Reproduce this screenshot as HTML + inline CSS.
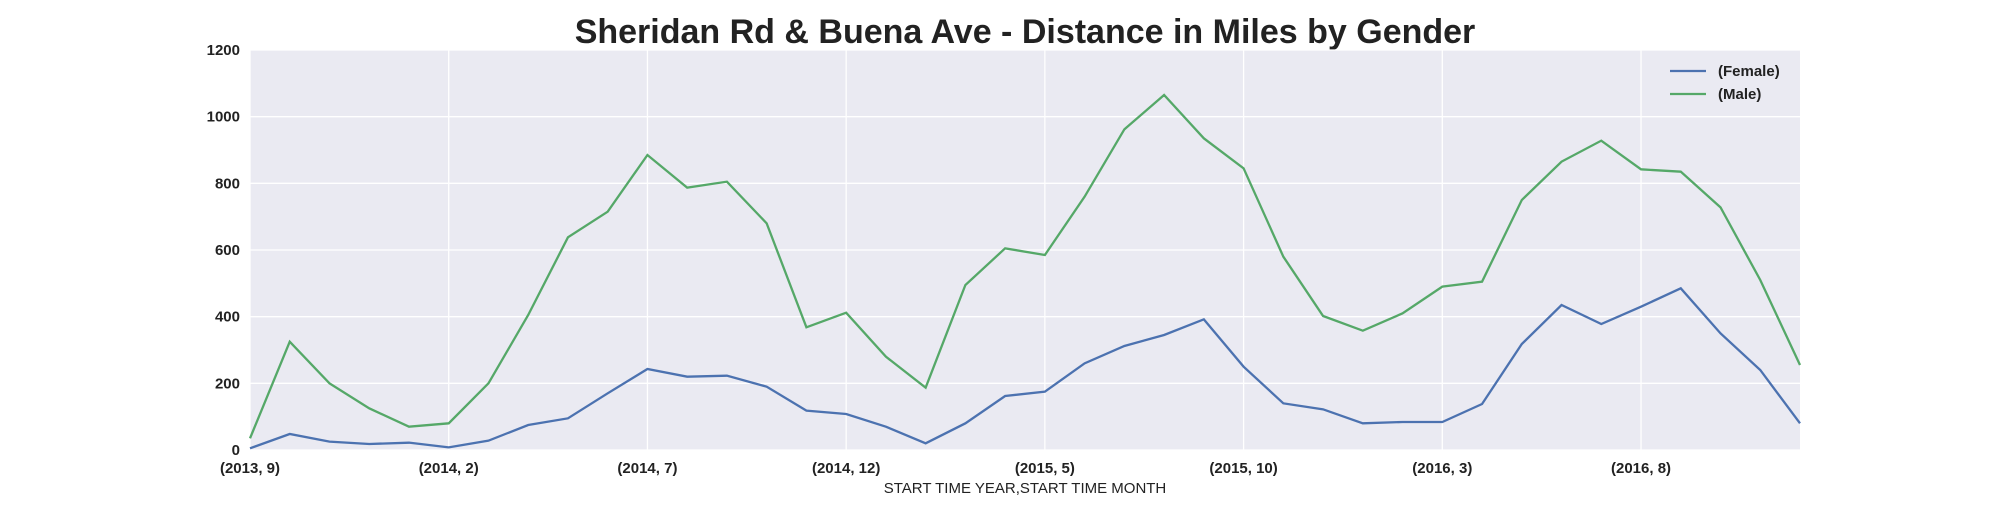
<!DOCTYPE html>
<html><head><meta charset="utf-8"><style>
body{margin:0;background:#fff;font-family:"Liberation Sans",Arial,sans-serif}
</style></head><body>
<svg width="2000" height="500" xmlns="http://www.w3.org/2000/svg">
<text x="1025" y="43" text-anchor="middle" font-size="34" font-weight="bold" fill="#222">Sheridan Rd &amp; Buena Ave - Distance in Miles by Gender</text>
<rect x="250" y="50" width="1550" height="400" fill="#eaeaf2"/>
<g id="grid"></g><g id="series"></g><g id="ticks"></g>
<text x="1025" y="493" text-anchor="middle" font-size="15" fill="#222">START TIME YEAR,START TIME MONTH</text>
<g>
<line x1="1670" y1="71" x2="1706" y2="71" stroke="#4c72b0" stroke-width="2.3"/>
<text x="1718" y="76" font-size="15" font-weight="bold" fill="#222">(Female)</text>
<line x1="1670" y1="94" x2="1706" y2="94" stroke="#55a868" stroke-width="2.3"/>
<text x="1718" y="99" font-size="15" font-weight="bold" fill="#222">(Male)</text>
</g>
</svg>
<script>
const female=[5,48,25,18,22,8,28,75,95,170,243,220,223,190,118,108,70,20,80,162,175,260,312,345,392,250,140,122,80,84,84,138,318,435,378,430,485,350,240,80];
const male=[35,325,200,125,70,80,200,405,638,715,885,787,805,680,368,412,280,187,495,605,585,760,962,1065,935,845,580,402,358,410,490,505,750,865,928,842,835,728,510,255];
const yTicks=[0,200,400,600,800,1000,1200];
const xTickLabels=["(2013, 9)","(2014, 2)","(2014, 7)","(2014, 12)","(2015, 5)","(2015, 10)","(2016, 3)","(2016, 8)"];
const xTickIdx=[0,5,10,15,20,25,30,35];
const NS="http://www.w3.org/2000/svg";
const X0=250,X1=1800,Y0=450,Y1=50;
const xs=i=>X0+(X1-X0)*i/(female.length-1);
const ys=v=>Y0-(Y0-Y1)*v/1200;
function mk(t,a,p){const e=document.createElementNS(NS,t);for(const k in a)e.setAttribute(k,a[k]);p.appendChild(e);return e;}
const grid=document.getElementById('grid'),ticks=document.getElementById('ticks'),series=document.getElementById('series');
yTicks.forEach(v=>{
 const l=mk('line',{x1:X0,x2:X1,y1:ys(v),y2:ys(v),stroke:'#fff','stroke-width':1.3},grid);
 
 
 const t=mk('text',{x:X0-10,y:ys(v)+5,'text-anchor':'end','font-size':15,'font-weight':'bold',fill:'#222'},ticks);
 t.textContent=v;
 
 
});
xTickIdx.forEach((idx,k)=>{
 const l=mk('line',{x1:xs(idx),x2:xs(idx),y1:Y1,y2:Y0,stroke:'#fff','stroke-width':1.3},grid);
 
 
 const t=mk('text',{x:xs(idx),y:473,'text-anchor':'middle','font-size':15,'font-weight':'bold',fill:'#222'},ticks);
 t.textContent=xTickLabels[k];
 
 
});
[[female,'#4c72b0','female-line'],[male,'#55a868','male-line']].forEach(([d,c,n])=>{
 const p=mk('polyline',{points:d.map((v,i)=>xs(i)+','+ys(v)).join(' '),fill:'none',stroke:c,'stroke-width':2.3},series);
 
 
});
</script>
</body></html>
